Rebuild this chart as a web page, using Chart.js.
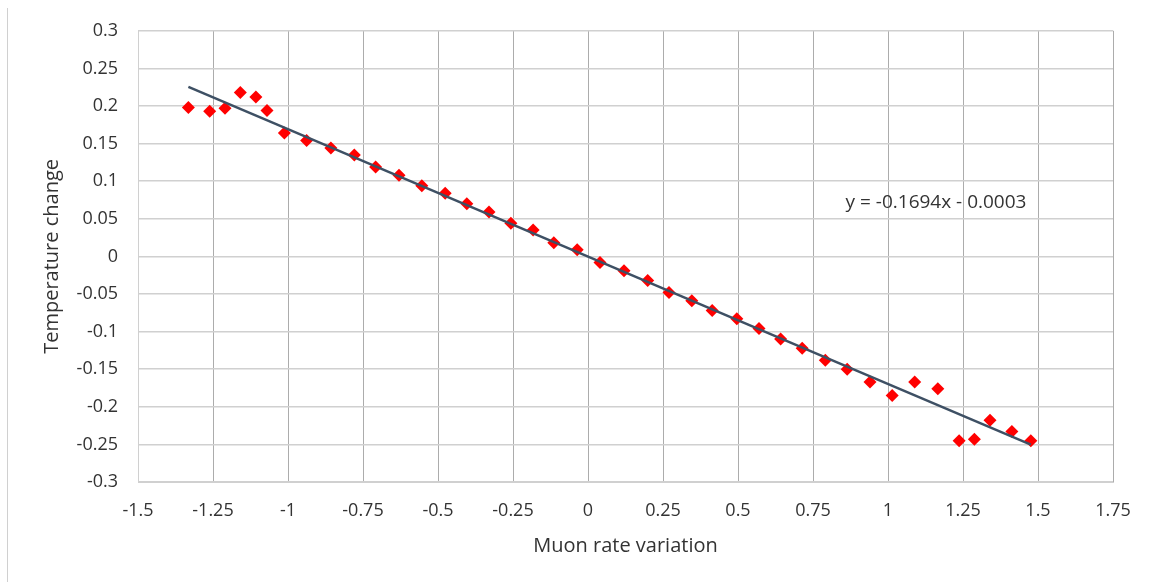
<!DOCTYPE html>
<html>
<head>
<meta charset="utf-8">
<title>Muon rate variation vs temperature change</title>
<script src="https://cdn.jsdelivr.net/npm/chart.js@4/dist/chart.umd.min.js"></script>
<style>
  html, body { margin: 0; padding: 0; background: #fff; }
  #wrap { width: 1152px; height: 582px; position: relative; }
</style>
</head>
<body>
<div id="wrap"><canvas id="myChart"></canvas></div>
<script>
// measured points
const muonRate = [
    -1.332, -1.261, -1.210, -1.159, -1.107, -1.070, -1.012, -0.938, -0.857, -0.779,
    -0.708, -0.630, -0.554, -0.476, -0.404, -0.330, -0.257, -0.183, -0.114,
    -0.036, 0.040, 0.120, 0.199, 0.270, 0.346, 0.414, 0.496,
    0.570, 0.642, 0.714, 0.791, 0.864, 0.940, 1.014,
    1.089, 1.166, 1.237, 1.288, 1.340, 1.413, 1.476
];
const tempChange = [
    0.198, 0.193, 0.197, 0.218, 0.212, 0.194, 0.164, 0.154, 0.144, 0.135,
    0.119, 0.108, 0.094, 0.084, 0.070, 0.059, 0.044, 0.035, 0.018,
    0.009, -0.008, -0.019, -0.032, -0.048, -0.059, -0.072, -0.083,
    -0.096, -0.110, -0.122, -0.138, -0.150, -0.167, -0.185,
    -0.167, -0.176, -0.245, -0.243, -0.218, -0.233, -0.245
];

// linear fit
const trendSlope = -0.1694;
const trendIntercept = -0.0003;

const xTicks = [-1.5, -1.25, -1, -0.75, -0.5, -0.25, 0, 0.25, 0.5, 0.75, 1, 1.25, 1.5, 1.75];
const yTicks = [-0.3, -0.25, -0.2, -0.15, -0.1, -0.05, 0, 0.05, 0.1, 0.15, 0.2, 0.25, 0.3];

const points = muonRate.map((x, i) => ({x: x, y: tempChange[i]}));
const xMin = Math.min(...muonRate);
const xMax = Math.max(...muonRate);
const trend = [xMin, xMax].map(x => ({x: x, y: trendSlope * x + trendIntercept}));

const equationText = 'y = ' + trendSlope + 'x ' + (trendIntercept < 0 ? '- ' : '+ ') + Math.abs(trendIntercept).toFixed(4);

const fmt = v => String(Number(v.toFixed(2)));

const textColor = '#333333';
const tickFont = {family: 'Open Sans', size: 18};
const titleFont = {family: 'Open Sans', size: 20};

// frame line on the left and the equation label
const extras = {
    id: 'extras',
    beforeDraw(chart) {
        const ctx = chart.ctx;
        ctx.save();
        ctx.fillStyle = '#fff';
        ctx.fillRect(0, 0, chart.width, chart.height);
        ctx.strokeStyle = '#d0d0d0';
        ctx.lineWidth = 1;
        ctx.beginPath();
        ctx.moveTo(7.5, 8);
        ctx.lineTo(7.5, chart.height);
        ctx.stroke();
        ctx.restore();
    },
    afterDatasetsDraw(chart) {
        const ctx = chart.ctx;
        const xs = chart.scales.x, ys = chart.scales.y;
        ctx.save();
        ctx.font = '19px "Open Sans"';
        ctx.fillStyle = textColor;
        ctx.textAlign = 'center';
        ctx.textBaseline = 'middle';
        ctx.fillText(equationText, xs.getPixelForValue(1.16), ys.getPixelForValue(0.071));
        ctx.restore();
    }
};

const ctx = document.getElementById('myChart').getContext('2d');
const myChart = new Chart(ctx, {
    type: 'scatter',
    data: {
        datasets: [{
            type: 'line',
            label: 'Linear fit',
            data: trend,
            borderColor: '#3e5064',
            borderWidth: 2.5,
            pointRadius: 0,
            fill: false,
            order: 0
        }, {
            label: 'Temperature change',
            data: points,
            pointStyle: 'rectRot',
            pointRadius: 6.5,
            pointHoverRadius: 6.5,
            backgroundColor: '#ff0000',
            borderColor: '#ff0000',
            borderWidth: 0,
            order: 1
        }]
    },
    options: {
        responsive: true,
        maintainAspectRatio: false,
        animation: false,
        layout: {padding: {top: 29, right: 39, bottom: 0, left: 0}},
        plugins: {
            legend: {display: false},
            tooltip: {enabled: false}
        },
        scales: {
            x: {
                type: 'linear',
                min: -1.5,
                max: 1.75,
                afterBuildTicks: s => { s.ticks = xTicks.map(v => ({value: v})); },
                afterFit: s => { s.height = 100; },
                grid: {color: '#acacac', lineWidth: 1, drawTicks: false},
                border: {color: '#d0d0d0'},
                ticks: {
                    color: textColor,
                    font: tickFont,
                    padding: 18,
                    maxRotation: 0,
                    callback: v => fmt(v)
                },
                title: {
                    display: true,
                    text: 'Muon rate variation',
                    color: textColor,
                    font: titleFont,
                    padding: {top: 0, bottom: 24}
                }
            },
            y: {
                type: 'linear',
                min: -0.3,
                max: 0.3,
                afterBuildTicks: s => { s.ticks = yTicks.map(v => ({value: v})); },
                afterFit: s => { s.width = 138; },
                grid: {color: '#d0d0d0', lineWidth: 1.5, drawTicks: false},
                border: {color: '#d0d0d0'},
                ticks: {
                    color: textColor,
                    font: tickFont,
                    padding: 20,
                    callback: v => fmt(v)
                },
                title: {
                    display: true,
                    text: 'Temperature change',
                    color: textColor,
                    font: titleFont,
                    padding: {top: 40, bottom: 0}
                }
            }
        }
    },
    plugins: [extras]
});
</script>
</body>
</html>
